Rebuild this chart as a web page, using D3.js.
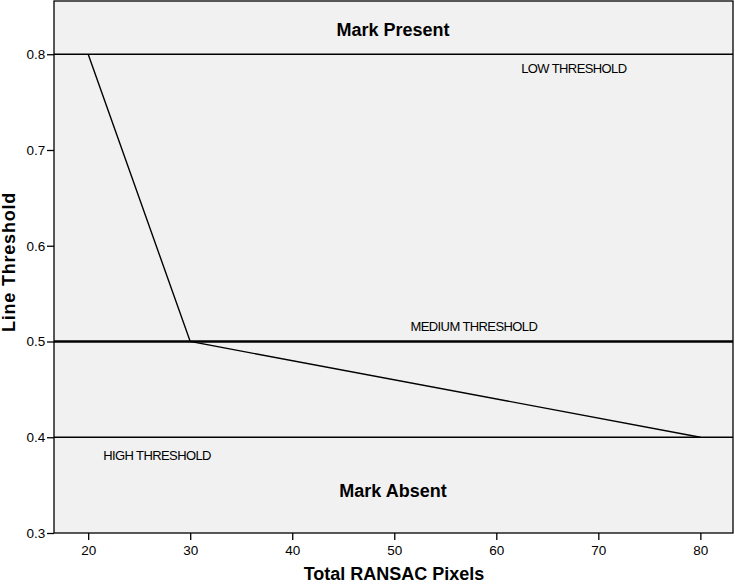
<!DOCTYPE html>
<html><head><meta charset="utf-8">
<script src="https://cdn.jsdelivr.net/npm/d3@7"></script>
<style>body{margin:0;background:#fff}svg{display:block;font-family:"Liberation Sans",Arial,sans-serif}</style>
</head><body><svg id="c" width="735" height="585"></svg>
<script>
const xValues = [20, 30, 80];
const yValues = [0.8, 0.5, 0.4];
const thresholds = [0.8, 0.5, 0.4];
const thresholdLabels = ["LOW THRESHOLD", "MEDIUM THRESHOLD", "HIGH THRESHOLD"];
const thresholdLabelX = [67.6, 57.8, 26.75];
const xTicks = [20, 30, 40, 50, 60, 70, 80];
const yTicks = [0.3, 0.4, 0.5, 0.6, 0.7, 0.8];

const L = 54, R = 733, T = 1, B = 533;
const svg = d3.select("#c");
const x = d3.scaleLinear().domain([16.65, 83.2]).range([L, R]);
const y = d3.scaleLinear().domain([0.3, 0.8556]).range([B, T]);

svg.append("rect").attr("x", L).attr("y", T).attr("width", R - L).attr("height", B - T)
  .attr("fill", "#f1f1f1").attr("stroke", "#000").attr("stroke-width", 1.3);

const xa = svg.append("g").attr("transform", `translate(0,${B})`)
  .call(d3.axisBottom(x).tickValues(xTicks).tickSize(7).tickSizeOuter(0).tickFormat(d3.format("d")));
const ya = svg.append("g").attr("transform", `translate(${L},0)`)
  .call(d3.axisLeft(y).tickValues(yTicks).tickSize(7).tickSizeOuter(0).tickFormat(d3.format(".1f")));
[xa, ya].forEach(a => {
  a.select(".domain").remove();
  a.selectAll("line").attr("stroke", "#000").attr("stroke-width", 1.3);
  a.selectAll("text").attr("font-family", "Liberation Sans, Arial, sans-serif").attr("font-size", 13.5).attr("fill", "#000");
});
xa.selectAll("text").attr("dy", "0.9em");
ya.selectAll("text").attr("dx", "0.1em");

svg.selectAll(".thr").data(thresholds).enter().append("line")
  .attr("x1", L).attr("x2", R).attr("y1", d => y(d)).attr("y2", d => y(d))
  .attr("stroke", "#000").attr("stroke-width", (d, i) => i === 1 ? 2.4 : 1.3);

svg.selectAll(".tl").data(thresholds).enter().append("text")
  .attr("x", (d, i) => x(thresholdLabelX[i])).attr("y", (d, i) => i === 1 ? y(d) - 15 : (i === 0 ? y(d) + 14 : y(d) + 18))
  .attr("dy", "0.35em")
  .attr("text-anchor", "middle").attr("font-size", 13).attr("letter-spacing", "-0.6")
  .text((d, i) => thresholdLabels[i]);

const pts = xValues.map((v, i) => [v, yValues[i]]);
svg.append("path").datum(pts).attr("fill", "none").attr("stroke", "#000").attr("stroke-width", 1.4)
  .attr("d", d3.line().x(d => x(d[0])).y(d => y(d[1])));

svg.append("text").attr("x", 393).attr("y", 36).attr("text-anchor", "middle")
  .attr("font-weight", "bold").attr("font-size", 18).text("Mark Present");
svg.append("text").attr("x", 393).attr("y", 497).attr("text-anchor", "middle")
  .attr("font-weight", "bold").attr("font-size", 18).text("Mark Absent");

svg.append("text").attr("x", 394).attr("y", 580).attr("text-anchor", "middle")
  .attr("font-weight", "bold").attr("font-size", 18).text("Total RANSAC Pixels");
svg.append("text").attr("transform", `translate(15,262) rotate(-90)`).attr("text-anchor", "middle")
  .attr("font-weight", "bold").attr("font-size", 18).attr("letter-spacing", "0.8").text("Line Threshold");
</script></body></html>
